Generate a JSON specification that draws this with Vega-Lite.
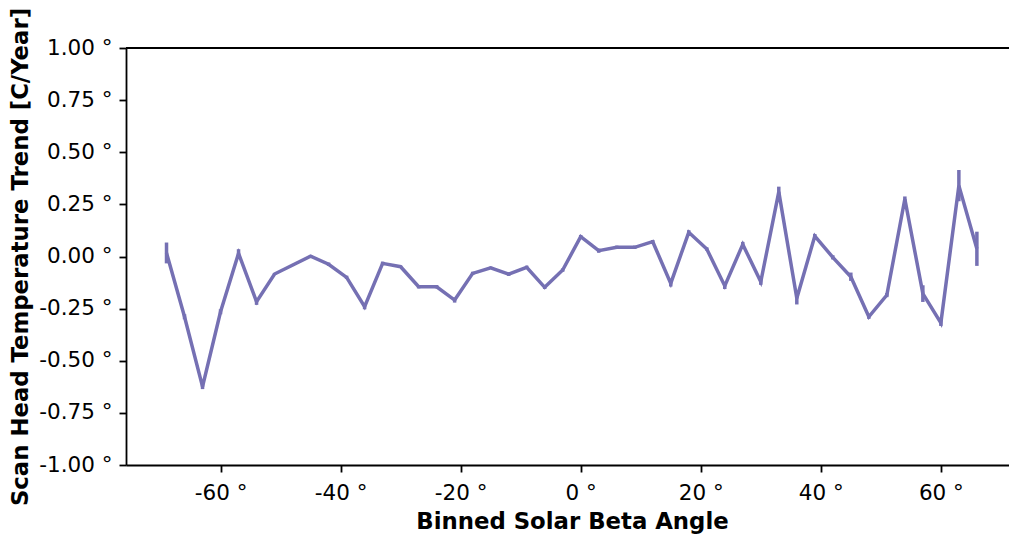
{
  "$schema": "https://vega.github.io/schema/vega-lite/v6.json",
  "autosize": {"type": "none"},
  "padding": {"left": 126, "top": 48, "right": 0, "bottom": 69},
  "width": 883,
  "height": 417,
  "background": "white",
  "config": {
    "view": {"stroke": null},
    "font": "DejaVu Sans",
    "axis": {
      "grid": false,
      "domainColor": "black",
      "domainWidth": 1.8,
      "tickColor": "black",
      "tickWidth": 1.8,
      "tickSize": 7,
      "labelFont": "DejaVu Sans",
      "labelFontSize": 21.5,
      "labelColor": "black",
      "titleFont": "DejaVu Sans",
      "titleFontSize": 22.8,
      "titleFontWeight": "bold",
      "titleColor": "black"
    }
  },
  "data": {
    "values": [
      {"beta": -69, "trend": 0.017, "err": 0.05},
      {"beta": -66, "trend": -0.289, "err": 0.012},
      {"beta": -63, "trend": -0.624, "err": 0.012},
      {"beta": -60, "trend": -0.265, "err": 0.012},
      {"beta": -57, "trend": 0.015, "err": 0.02},
      {"beta": -54, "trend": -0.217, "err": 0.015},
      {"beta": -51, "trend": -0.084, "err": 0.005},
      {"beta": -45, "trend": 0.002, "err": 0.005},
      {"beta": -42, "trend": -0.037, "err": 0.008},
      {"beta": -39, "trend": -0.1, "err": 0.008},
      {"beta": -36, "trend": -0.241, "err": 0.012},
      {"beta": -33, "trend": -0.033, "err": 0.008},
      {"beta": -30, "trend": -0.049, "err": 0.005},
      {"beta": -27, "trend": -0.145, "err": 0.008},
      {"beta": -24, "trend": -0.145, "err": 0.008},
      {"beta": -21, "trend": -0.209, "err": 0.012},
      {"beta": -18, "trend": -0.081, "err": 0.008},
      {"beta": -15, "trend": -0.054, "err": 0.005},
      {"beta": -12, "trend": -0.085, "err": 0.008},
      {"beta": -9, "trend": -0.052, "err": 0.008},
      {"beta": -6, "trend": -0.148, "err": 0.008},
      {"beta": -3, "trend": -0.065, "err": 0.008},
      {"beta": 0, "trend": 0.095, "err": 0.008},
      {"beta": 3, "trend": 0.028, "err": 0.01},
      {"beta": 6, "trend": 0.044, "err": 0.008},
      {"beta": 9, "trend": 0.044, "err": 0.008},
      {"beta": 12, "trend": 0.071, "err": 0.008},
      {"beta": 15, "trend": -0.129, "err": 0.015},
      {"beta": 18, "trend": 0.116, "err": 0.01},
      {"beta": 21, "trend": 0.036, "err": 0.008},
      {"beta": 24, "trend": -0.141, "err": 0.015},
      {"beta": 27, "trend": 0.058, "err": 0.012},
      {"beta": 30, "trend": -0.121, "err": 0.015},
      {"beta": 33, "trend": 0.31, "err": 0.025},
      {"beta": 36, "trend": -0.2, "err": 0.03},
      {"beta": 39, "trend": 0.098, "err": 0.01},
      {"beta": 42, "trend": -0.004, "err": 0.01},
      {"beta": 45, "trend": -0.097, "err": 0.02},
      {"beta": 48, "trend": -0.289, "err": 0.01},
      {"beta": 51, "trend": -0.185, "err": 0.01},
      {"beta": 54, "trend": 0.276, "err": 0.012},
      {"beta": 57, "trend": -0.178, "err": 0.04},
      {"beta": 60, "trend": -0.318, "err": 0.015},
      {"beta": 63, "trend": 0.34, "err": 0.075},
      {"beta": 66, "trend": 0.037, "err": 0.082}
    ]
  },
  "encoding": {
    "x": {
      "field": "beta",
      "type": "quantitative",
      "scale": {"domain": [-75.75, 71.35], "nice": false, "zero": false},
      "axis": {
        "title": "Binned Solar Beta Angle",
        "values": [-60, -40, -20, 0, 20, 40, 60],
        "labelExpr": "replace(format(datum.value, 'd'), '\u2212', '-') + ' °'",
        "labelPadding": 10,
        "titleX": 446,
        "titleY": 63,
        "titleAlign": "center",
        "titleBaseline": "alphabetic"
      }
    },
    "y": {
      "field": "trend",
      "type": "quantitative",
      "scale": {"domain": [-1, 1], "nice": false, "zero": false},
      "axis": {
        "title": "Scan Head Temperature Trend [C/Year]",
        "values": [-1, -0.75, -0.5, -0.25, 0, 0.25, 0.5, 0.75, 1],
        "labelExpr": "replace(format(datum.value, '.2f'), '\u2212', '-') + ' °'",
        "labelPadding": 7,
        "titleAngle": -90,
        "titleX": -99,
        "titleY": 208.5,
        "titleAlign": "center",
        "titleBaseline": "alphabetic"
      }
    }
  },
  "layer": [
    {
      "mark": {"type": "rule", "color": "black", "strokeWidth": 1.8},
      "encoding": {"y": {"datum": 1}, "x": null}
    },
    {
      "mark": {"type": "line", "color": "#7570b3", "strokeWidth": 3.5, "strokeJoin": "miter", "clip": false}
    },
    {
      "mark": {"type": "errorbar", "color": "#7570b3", "thickness": 3.5},
      "encoding": {
        "yError": {"field": "err"}
      }
    }
  ]
}
